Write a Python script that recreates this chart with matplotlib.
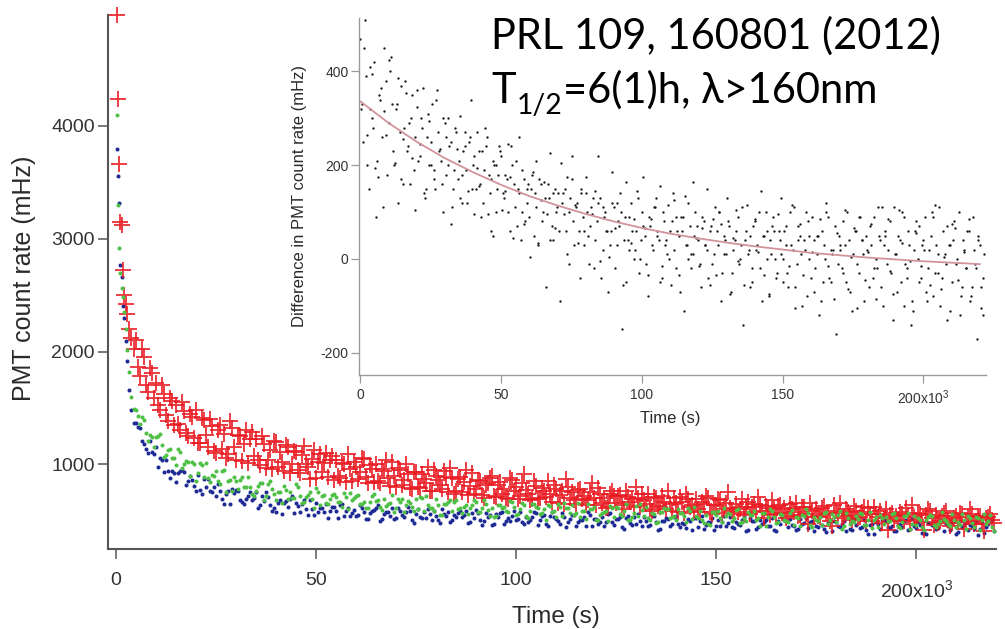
import matplotlib
matplotlib.use("Agg")
import matplotlib.pyplot as plt
from matplotlib.transforms import IdentityTransform

# ---------------- data ----------------
# sampling times in units of 10^3 s
EARLY_TIME = [0.2, 0.5, 0.8, 1.1, 1.4, 1.7, 2.0, 2.4, 2.8, 3.3, 3.8, 4.4]
GRID_TIME = [
    0, 1, 2, 3, 4, 5, 6, 7, 8, 9, 10, 11, 12, 13, 14, 15, 16, 17, 18, 19,
    20, 21, 22, 23, 24, 25, 26, 27, 28, 29, 30, 31, 32, 33, 34, 35, 36, 37, 38, 39,
    40, 41, 42, 43, 44, 45, 46, 47, 48, 49, 50, 51, 52, 53, 54, 55, 56, 57, 58, 59,
    60, 61, 62, 63, 64, 65, 66, 67, 68, 69, 70, 71, 72, 73, 74, 75, 76, 77, 78, 79,
    80, 81, 82, 83, 84, 85, 86, 87, 88, 89, 90, 91, 92, 93, 94, 95, 96, 97, 98, 99,
    100, 101, 102, 103, 104, 105, 106, 107, 108, 109, 110, 111, 112, 113, 114, 115, 116, 117, 118, 119,
    120, 121, 122, 123, 124, 125, 126, 127, 128, 129, 130, 131, 132, 133, 134, 135, 136, 137, 138, 139,
    140, 141, 142, 143, 144, 145, 146, 147, 148, 149, 150, 151, 152, 153, 154, 155, 156, 157, 158, 159,
    160, 161, 162, 163, 164, 165, 166, 167, 168, 169, 170, 171, 172, 173, 174, 175, 176, 177, 178, 179,
    180, 181, 182, 183, 184, 185, 186, 187, 188, 189, 190, 191, 192, 193, 194, 195, 196, 197, 198, 199,
    200, 201, 202, 203, 204, 205, 206, 207, 208, 209, 210, 211, 212, 213, 214, 215, 216, 217, 218, 219,
    220, 221,
]

# PMT count rate (mHz).  *_A: 12 early samples, then t = 5 ... 219 (x10^3 s);
# *_B: t = 5.5 ... 219.5
RED_COUNTS_A = [
    4980, 4240, 3660, 3150, 3120, 2720, 2500, 2420, 2330, 2200, 2120, 2020,
    2100, 1780, 1950, 1640, 1810, 1720, 1480, 1620, 1380, 1560,
    1530, 1300, 1470, 1250, 1420, 1480, 1190, 1390, 1150, 1340,
    1100, 1350, 1270, 1090, 1320, 1040, 1250, 1180, 1010, 1290,
    1220, 990, 1180, 1040, 960, 1200, 1110, 940, 1150, 1000,
    1110, 920, 1160, 980, 1050, 880, 1090, 1010, 890, 1070,
    1040, 880, 1000, 1090, 850, 980, 930, 1050, 830, 960,
    1000, 830, 940, 880, 1020, 800, 950, 860, 910, 780,
    930, 790, 870, 980, 760, 900, 820, 940, 750, 880,
    760, 890, 840, 730, 920, 780, 850, 700, 830, 900,
    710, 840, 780, 690, 860, 800, 720, 910, 740, 690,
    810, 700, 760, 850, 670, 780, 730, 650, 800, 750,
    650, 780, 720, 680, 830, 640, 740, 700, 620, 760,
    660, 730, 600, 710, 690, 800, 630, 680, 740, 590,
    700, 620, 670, 760, 590, 660, 710, 570, 690, 640,
    690, 580, 650, 700, 560, 640, 680, 600, 750, 590,
    650, 600, 550, 670, 620, 580, 640, 520, 610, 680,
    560, 640, 610, 540, 600, 660, 550, 620, 470, 590,
    600, 530, 630, 570, 450, 590, 660, 540, 580, 510,
    590, 530, 620, 610, 500, 560, 590, 520, 420, 570,
    540, 580, 500, 550, 640, 510, 560, 420, 600, 520,
    550, 500, 570, 510, 480, 540, 570, 430, 530, 560,
    500, 540, 410, 530, 510,
]
RED_COUNTS_B = [
    1860, 2020, 1700, 1850, 1590, 1530, 1700, 1440, 1590, 1350,
    1360, 1550, 1280, 1450, 1230, 1190, 1410, 1260, 1400, 1120,
    1300, 1140, 1060, 1380, 1150, 1260, 1030, 1300, 1220, 1070,
    1040, 1250, 970, 1130, 1210, 980, 1020, 1170, 920, 1120,
    950, 1080, 1000, 870, 1130, 1020, 930, 1100, 1040, 860,
    900, 1010, 840, 960, 1020, 870, 1060, 890, 990, 840,
    850, 960, 1040, 810, 900, 970, 820, 1000, 790, 930,
    800, 910, 830, 760, 950, 860, 780, 890, 970, 740,
    870, 750, 950, 810, 740, 860, 730, 820, 880, 720,
    820, 740, 700, 880, 760, 690, 830, 770, 680, 850,
    690, 790, 710, 740, 820, 660, 760, 870, 700, 680,
    770, 690, 640, 750, 700, 790, 660, 610, 740, 720,
    720, 640, 760, 670, 620, 700, 740, 650, 600, 710,
    630, 720, 600, 650, 700, 580, 670, 740, 620, 590,
    600, 670, 720, 580, 640, 690, 570, 660, 610, 560,
    580, 690, 620, 560, 650, 710, 590, 630, 550, 600,
    630, 570, 520, 650, 580, 540, 620, 560, 660, 530,
    540, 610, 560, 500, 640, 570, 520, 600, 550, 630,
    520, 580, 500, 560, 620, 530, 480, 600, 550, 510,
    500, 560, 610, 470, 530, 570, 490, 550, 590, 460,
    480, 540, 590, 450, 520, 500, 560, 490, 600, 470,
    540, 470, 520, 560, 480,
]
GREEN_COUNTS_A = [
    4100, 3300, 2920, 2700, 2560, 2480, 2350, 2200, 2010, 1820, 1600, 1490,
    1480, 1360, 1395, 1205, 1240, 1240, 1265, 1065, 1125, 1060,
    995, 1110, 1000, 1020, 1020, 855, 1010, 885, 880, 905,
    945, 825, 950, 850, 760, 850, 860, 800, 885, 735,
    765, 830, 680, 825, 785, 680, 755, 810, 695, 700,
    825, 720, 665, 730, 695, 790, 635, 725, 645, 730,
    710, 665, 745, 605, 680, 720, 645, 665, 610, 720,
    675, 625, 695, 645, 730, 610, 670, 580, 675, 625,
    690, 710, 590, 640, 610, 695, 550, 645, 665, 590,
    680, 615, 620, 560, 640, 665, 575, 685, 595, 615,
    545, 640, 620, 580, 665, 550, 600, 640, 525, 650,
    620, 560, 600, 640, 575, 530, 620, 660, 615, 640,
    565, 535, 590, 650, 600, 510, 550, 575, 500, 610,
    620, 560, 585, 510, 535, 630, 645, 545, 520, 565,
    480, 580, 610, 600, 530, 505, 565, 540, 615, 515,
    545, 585, 480, 470, 575, 550, 525, 610, 565, 500,
    595, 480, 525, 580, 550, 510, 450, 570, 530, 590,
    480, 560, 510, 490, 595, 530, 455, 545, 565, 445,
    510, 530, 570, 475, 555, 490, 590, 455, 520, 495,
    540, 570, 460, 505, 435, 530, 550, 470, 495, 560,
    520, 435, 540, 570, 475, 460, 505, 420, 530, 545,
    440, 495, 515, 475, 555, 445, 460, 505, 545, 480,
    530, 415, 560, 495, 445,
]
GREEN_COUNTS_B = [
    1430, 1420, 1280, 1260, 1150, 1250, 1170, 1080, 1140, 1055,
    1140, 970, 1030, 900, 1000, 925, 990, 1010, 845, 900,
    850, 945, 755, 865, 885, 785, 885, 800, 800, 720,
    810, 835, 715, 850, 735, 755, 660, 775, 750, 700,
    800, 660, 710, 755, 610, 755, 720, 660, 695, 735,
    665, 625, 710, 745, 705, 725, 650, 615, 670, 735,
    685, 595, 630, 655, 580, 690, 695, 635, 660, 585,
    605, 700, 715, 615, 590, 635, 550, 650, 680, 670,
    600, 570, 635, 610, 680, 580, 615, 650, 545, 535,
    640, 615, 590, 675, 625, 560, 655, 540, 590, 645,
    610, 570, 510, 630, 590, 650, 540, 615, 570, 550,
    655, 590, 515, 600, 625, 505, 565, 590, 630, 530,
    610, 545, 645, 510, 570, 545, 595, 625, 510, 560,
    485, 580, 605, 520, 545, 605, 565, 485, 590, 620,
    520, 505, 550, 465, 575, 590, 485, 540, 560, 520,
    600, 485, 500, 550, 590, 525, 570, 455, 600, 535,
    485, 550, 500, 570, 460, 520, 550, 600, 460, 535,
    500, 465, 580, 505, 535, 550, 430, 565, 475, 485,
    515, 555, 465, 580, 505, 440, 520, 535, 495, 565,
    455, 485, 540, 425, 545, 520, 440, 505, 550, 465,
    470, 575, 495, 450, 505, 485, 560, 425, 520, 440,
    525, 510, 470, 550, 410,
]
BLUE_COUNTS_A = [
    3800, 3560, 3320, 2770, 2660, 2400, 2300, 2090, 1920, 1660, 1480, 1370,
    1370, 1320, 1180, 1100, 1110, 1150, 1060, 930, 940, 945,
    840, 940, 930, 850, 860, 760, 770, 870, 870, 750,
    715, 760, 650, 760, 785, 770, 680, 650, 715, 680,
    755, 640, 672, 710, 590, 575, 685, 655, 620, 715,
    655, 580, 680, 550, 600, 660, 615, 575, 525, 625,
    589, 640, 540, 610, 565, 545, 635, 580, 515, 590,
    610, 500, 555, 575, 610, 525, 590, 535, 625, 505,
    560, 535, 575, 605, 505, 544, 480, 560, 580, 510,
    530, 585, 550, 480, 570, 595, 510, 495, 535, 460,
    555, 565, 475, 522, 540, 505, 575, 475, 490, 530,
    565, 505, 550, 450, 575, 515, 475, 530, 485, 550,
    450, 505, 530, 575, 455, 515, 485, 455, 555, 490,
    515, 530, 425, 540, 465, 470, 500, 530, 455, 550,
    487, 430, 500, 515, 475, 540, 440, 470, 515, 420,
    525, 500, 430, 485, 525, 450, 455, 545, 476, 440,
    490, 465, 535, 415, 500, 430, 505, 490, 455, 525,
    405, 475, 510, 445, 466, 415, 515, 480, 435, 500,
    455, 530, 425, 480, 405, 490, 445, 500, 520, 415,
    465, 435, 510, 385, 470, 490, 425, 505, 445, 454,
    405, 475, 495, 415, 515, 435, 460, 395, 480, 465,
    430, 505, 405, 449, 485, 385, 495, 470, 420, 455,
    490, 430, 395, 475, 510,
]
BLUE_COUNTS_B = [
    1330, 1210, 1140, 1210, 1095, 975, 1040, 1040, 875, 925,
    925, 950, 820, 895, 805, 905, 740, 800, 760, 800,
    825, 690, 735, 645, 745, 765, 670, 690, 755, 705,
    610, 720, 750, 635, 610, 660, 555, 675, 690, 570,
    626, 650, 600, 685, 550, 575, 615, 645, 585, 625,
    525, 645, 590, 545, 595, 550, 615, 515, 568, 595,
    635, 515, 575, 545, 515, 615, 550, 575, 590, 480,
    600, 520, 525, 555, 585, 510, 605, 541, 485, 550,
    565, 530, 590, 490, 520, 565, 465, 570, 550, 475,
    530, 575, 495, 500, 590, 519, 485, 530, 510, 580,
    460, 540, 470, 545, 530, 495, 565, 445, 515, 550,
    485, 504, 455, 550, 515, 470, 535, 490, 565, 460,
    515, 440, 520, 480, 535, 555, 450, 495, 465, 545,
    415, 500, 520, 455, 535, 475, 482, 435, 500, 525,
    445, 545, 465, 485, 420, 505, 490, 455, 530, 435,
    474, 510, 410, 520, 495, 445, 475, 510, 455, 420,
    495, 530, 495, 515, 450, 425, 470, 525, 485, 405,
    440, 461, 400, 495, 500, 450, 475, 410, 430, 515,
    525, 445, 420, 465, 385, 475, 505, 495, 435, 410,
    465, 445, 510, 425, 451, 485, 395, 385, 480, 455,
    435, 510, 470, 415, 495, 400, 440, 490, 460, 425,
    375, 480, 445, 500, 405,
]

# inset: difference in PMT count rate (mHz) at GRID_TIME, +0.5 and +0.25
INSET_DIFF_A = [
    470, 250, 390, 150, 300, 420, 210, 340, 110, 380,
    290, 430, 200, 330, 270, 160, 380, 240, 300, 190,
    360, 220, 280, 130, 310, 250, 190, 340, 230, 160,
    290, 200, 250, 150, 270, 210, 180, 240, 120, 260,
    200, 150, 230, 90, 190, 260, 140, 210, 100, 180,
    220, 130, 170, 60, 200, 110, 150, 40, 170, 120,
    90, 180, 140, 30, 160, 100, -60, 130, 70, 150,
    110, -90, 140, 60, 100, 170, 30, 120, -40, 90,
    140, 50, 110, -20, 80, 130, 20, 100, -70, 60,
    110, 30, 70, -150, 90, 40, 120, 0, 60, -30,
    100, 50, -80, 70, 20, 130, 40, -40, 80, 10,
    60, 140, -20, 50, 90, -110, 30, 70, 10, 100,
    40, -60, 80, 20, 60, -10, 110, 30, -90, 50,
    10, 70, -30, 40, 90, 0, -140, 60, 20, -50,
    80, 30, -20, 50, 100, -80, 10, 60, -30, 40,
    0, 70, -60, 30, 110, -10, 50, -100, 20, 80,
    -40, 40, 10, -120, 60, 0, 90, -50, 20, -160,
    50, -20, 30, 100, -70, 10, 60, -30, 40, -90,
    20, 70, -40, 0, 110, -60, 30, -10, 80, -130,
    10, 50, -50, 90, -20, 30, -90, 60, 0, -40,
    40, -70, 20, 100, -30, 10, -100, 60, -10, 30,
    -50, 80, 0, -120, 40, -20, 60, -80, 20, -170,
    30, -40,
]
INSET_DIFF_B = [
    330, 510, 200, 410, 280, 90, 350, 260, 450, 180,
    400, 230, 320, 120, 370, 280, 230, 160, 350, 260,
    210, 300, 140, 260, 200, 330, 150, 270, 210, 300,
    180, 240, 110, 280, 170, 130, 230, 190, 250, 150,
    220, 270, 160, 120, 240, 180, 60, 200, 150, 230,
    140, 180, 100, 240, 160, 70, 140, 190, 80, 160,
    150, 50, 110, 170, 80, 130, 160, 40, 140, 100,
    60, 120, 150, 10, 130, 80, 110, 60, 150, 30,
    100, 70, 130, 40, 120, -40, 90, 60, 30, 120,
    -20, 80, 100, 40, -50, 90, 60, 20, 130, 40,
    70, -10, 90, 30, 110, 60, -50, 100, 40, 0,
    80, 20, 60, -70, 90, 30, 120, -20, 50, 70,
    -10, 90, 30, -40, 70, 10, 60, 100, -30, 40,
    80, -70, 20, 60, -10, 110, 40, 10, -60, 70,
    20, 100, -90, 50, 0, 40, 90, -40, 60, 10,
    60, -30, 100, 20, -60, 70, 10, 40, -80, 50,
    90, -20, 50, -90, 30, 100, -40, 10, 70, -10,
    20, 80, -50, 40, -110, 60, -10, 90, 10, 50,
    -60, 30, 90, -20, 40, -100, 60, 20, -30, 110,
    -70, 40, 100, -10, 60, -140, 20, 80, -50, 30,
    90, -20, 50, -80, 30, 110, -40, 10, 70, -110,
    40, -10, 100, -60, 20, 60, -90, 90, -20, 40,
    -60, 10,
]
INSET_DIFF_C = [
    320, 450, 265, 320, 395, 195, 175, 365, 315, 265,
    425, 330, 205, 385, 170, 255, 355, 290, 215, 105,
    325, 245, 365, 150, 295, 200, 170, 360, 235, 100,
    260, 300, 75, 190, 235, 305, 120, 270, 145, 340,
    95, 195, 155, 230, 280, 95, 170, 50, 200, 240,
    105, 145, 245, 175, 45, 210, 260, 100, 75, 150,
    5, 185, 210, 35, 125, 165, 95, 225, 40, 65,
    140, 205, 95, 175, -10, 220, 115, 35, 140, 60,
    175, -10, 95, 145, 220, -5, 110, 60, 5, 185,
    65, 120, 140, -55, 165, 20, 35, 85, 145, 0,
    175, 65, -35, 85, 110, 50, 155, -15, 30, 115,
    -55, 125, 90, -35, 60, 135, 0, 10, 165, 45,
    -15, 65, 30, 150, -55, 85, -35, 100, 75, 10,
    130, -75, 45, 105, -5, 30, -55, 115, 50, -20,
    85, 15, 145, -35, 60, -75, 70, 0, 95, 130,
    -50, 30, -15, 115, -105, 40, 75, -35, 100, 0,
    15, -70, 50, 85, -50, 120, -15, 20, -85, 55,
    30, -30, 105, -65, 5, 65, -105, 90, 40, -45,
    15, 75, -20, -85, 50, 110, 50, 85, -25, -75,
    10, 105, 35, -100, -40, -5, -110, 55, 70, -15,
    20, -90, -55, 90, 115, -30, -65, 5, -130, 30,
    75, 65, -45, -80, 15, -20, 85, -60, -10, 50,
    -105, -120,
]
# fitted exponential decay drawn in the inset
FIT_TIME = [0, 10, 20, 30, 40, 50, 60, 70, 80, 90, 100, 110, 120, 130, 140, 150,
            160, 170, 180, 190, 200, 210, 220]
FIT_VALUES = [336, 290, 250, 215, 185, 158, 134, 114, 96, 80, 66, 54, 44, 35, 27, 20,
              13, 8, 3, -1, -5, -8, -11]

MAIN_XTICKS = [0, 50, 100, 150, 200]
MAIN_XTICKLABELS = ["0", "50", "100", "150", ""]
MAIN_YTICKS = [1000, 2000, 3000, 4000]
INSET_XTICKS = [0, 50, 100, 150, 200]
INSET_XTICKLABELS = ["0", "50", "100", "150", "200x10$^{3}$"]
INSET_YTICKS = [-200, 0, 200, 400]

# ---------------- styling ----------------
W, H = 1005, 629
RED = "#ea1b22"
GREEN = "#4fc046"
BLUE = "#1f2b95"
AXCOL = "#555555"
INSET_AXCOL = "#9a9a9a"
TXT = "#2a2a2a"
SANS = "Liberation Sans"

plt.rcParams["font.family"] = SANS
plt.rcParams["mathtext.fontset"] = "custom"
plt.rcParams["mathtext.rm"] = SANS
plt.rcParams["mathtext.it"] = SANS
plt.rcParams["axes.unicode_minus"] = False

fig = plt.figure(figsize=(W / 100, H / 100), dpi=100)
fig.patch.set_facecolor("white")


def fbox(x0, y0, x1, y1):
    return [x0 / W, 1 - y1 / H, (x1 - x0) / W, (y1 - y0) / H]


# ---------------- main axes ----------------
ax = fig.add_axes(fbox(108, 15, 995.7, 549))
time_a = EARLY_TIME + GRID_TIME[5:220]
time_b = [t + 0.5 for t in GRID_TIME[5:220]]
t_all = time_a + time_b

ax.plot(t_all, BLUE_COUNTS_A + BLUE_COUNTS_B, ls="none", marker="o", ms=2.9,
        mfc=BLUE, mec="none", clip_on=False, zorder=2)
ax.plot(t_all, RED_COUNTS_A + RED_COUNTS_B, ls="none", marker="+", ms=11, mew=1.35,
        color=RED, alpha=0.88, clip_on=False, zorder=3)
ax.plot(t_all, GREEN_COUNTS_A + GREEN_COUNTS_B, ls="none", marker="o", ms=2.9,
        mfc=GREEN, mec="none", clip_on=False, zorder=4)

ax.set_xlim(-2, 219.9)
ax.set_ylim(249, 4984)
ax.set_xticks(MAIN_XTICKS)
ax.set_xticklabels(MAIN_XTICKLABELS)
ax.set_yticks(MAIN_YTICKS)
for s in ["top", "right"]:
    ax.spines[s].set_visible(False)
for s in ["left", "bottom"]:
    ax.spines[s].set_color(AXCOL)
    ax.spines[s].set_linewidth(1.5)
ax.tick_params(axis="both", direction="out", length=7.5, width=1.1, color=AXCOL,
               labelsize=14, labelcolor="#333333")
ax.tick_params(axis="x", pad=9)
ax.tick_params(axis="y", pad=2)
ax.set_xlabel("Time (s)", fontsize=17.5, color=TXT)
ax.xaxis.label.set_va("baseline")
ax.xaxis.set_label_coords((556 - 108) / 887.7, (549 - 623) / 534)
ax.set_ylabel("PMT count rate (mHz)", fontsize=18, color=TXT)
ax.yaxis.label.set_va("center")
ax.yaxis.set_label_coords((24.5 - 108) / 887.7, (549 - 278) / 534)

ident = IdentityTransform()
fig.text(916.7, H - 597, "200x10$^{3}$", fontsize=14, color="#333333",
         ha="center", va="baseline", transform=ident)

# ---------------- inset ----------------
ax2 = fig.add_axes(fbox(359, 18, 986, 375))
ax2.patch.set_alpha(0)
inset_dot = dict(ls="none", marker="o", ms=1.7, mfc="#1a1a1a", mec="none", clip_on=False)
ax2.plot(GRID_TIME, INSET_DIFF_A, **inset_dot)
ax2.plot([t + 0.5 for t in GRID_TIME], INSET_DIFF_B, **inset_dot)
ax2.plot([t + 0.25 for t in GRID_TIME], INSET_DIFF_C, **inset_dot)
ax2.plot(FIT_TIME, FIT_VALUES, color="#d2939b", lw=1.3)
ax2.set_xlim(-0.5, 222.2)
ax2.set_ylim(-247.6, 514)
ax2.set_xticks(INSET_XTICKS)
ax2.set_xticklabels(INSET_XTICKLABELS)
ax2.set_yticks(INSET_YTICKS)
for s in ["top", "right"]:
    ax2.spines[s].set_visible(False)
for s in ["left", "bottom"]:
    ax2.spines[s].set_color(INSET_AXCOL)
    ax2.spines[s].set_linewidth(1.0)
ax2.tick_params(axis="both", direction="out", length=5.5, width=0.9, color=INSET_AXCOL,
                labelsize=10, labelcolor="#333333")
ax2.tick_params(axis="x", pad=4)
ax2.tick_params(axis="y", pad=2)
ax2.set_xlabel("Time (s)", fontsize=12, color=TXT)
ax2.xaxis.label.set_va("baseline")
ax2.xaxis.set_label_coords((670 - 359) / 627, (375 - 423) / 357)
ax2.set_ylabel("Difference in PMT count rate (mHz)", fontsize=12, color=TXT)
ax2.yaxis.label.set_va("center")
ax2.yaxis.set_label_coords((299 - 359) / 627, (375 - 196) / 357)

# ---------------- annotation text ----------------
NOTE_FONT = ["Lato", "DejaVu Sans"]
NOTE_SIZE = 30
fig.text(491, H - 49, "PRL 109, 160801 (2012)", fontsize=NOTE_SIZE, family=NOTE_FONT,
         color="black", va="baseline", transform=ident)
fig.canvas.draw()
renderer = fig.canvas.get_renderer()
t_main = fig.text(491, H - 103, "T", fontsize=NOTE_SIZE, family=NOTE_FONT,
                  color="black", va="baseline", transform=ident)
x_end = t_main.get_window_extent(renderer).x1
t_sub = fig.text(x_end + 1, H - 103 - 11, "1/2", fontsize=NOTE_SIZE * 0.68,
                 family=NOTE_FONT, color="black", va="baseline", transform=ident)
x_end = t_sub.get_window_extent(renderer).x1
fig.text(x_end + 1, H - 103, "=6(1)h, \u03bb>160nm", fontsize=NOTE_SIZE,
         family=NOTE_FONT, color="black", va="baseline", transform=ident)

fig.savefig("out.png", dpi=100, facecolor="white")
